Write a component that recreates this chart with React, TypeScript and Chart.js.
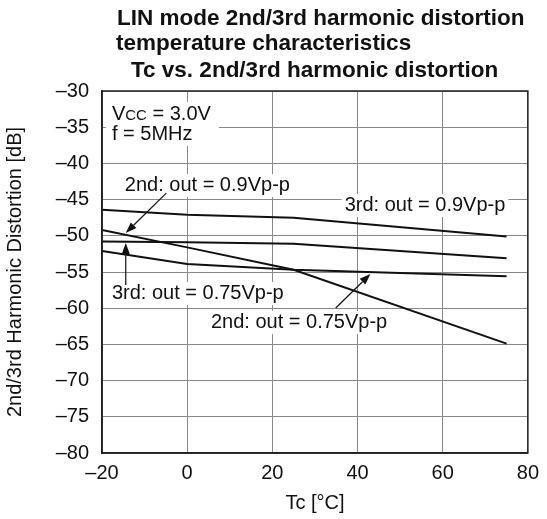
import React, { useEffect, useRef } from "react";
import { Chart, registerables } from "chart.js";

Chart.register(...registerables);

const tc = [-20, 0, 25, 75];
const third09 = [-46.4, -47.1, -47.5, -50.1];
const second09 = [-49.2, -51.6, -54.7, -64.9];
const third075 = [-50.8, -50.9, -51.1, -53.1];
const second075 = [-52.1, -53.9, -54.7, -55.6];

const xTicks = [-20, 0, 20, 40, 60, 80];
const yTicks = [-30, -35, -40, -45, -50, -55, -60, -65, -70, -75, -80];

const titleLines = [
  "LIN mode 2nd/3rd harmonic distortion",
  "temperature characteristics",
  "Tc vs. 2nd/3rd harmonic distortion",
];
const xTitle = "Tc [°C]";
const yTitle = "2nd/3rd Harmonic Distortion [dB]";

const labels = [
  { text: "2nd: out = 0.9Vp-p", x: -14.65, y: -43.81 },
  { text: "3rd: out = 0.9Vp-p", x: 36.98, y: -46.57 },
  { text: "3rd: out = 0.75Vp-p", x: -17.67, y: -58.73 },
  { text: "2nd: out = 0.75Vp-p", x: 5.58, y: -62.73 },
];
const arrows = [
  { x0: -4.9, y0: -44.1, x1: -14.42, y1: -49.61 },
  { x0: -14.42, y0: -56.8, x1: -14.42, y1: -51.0 },
  { x0: 34.88, y0: -59.97, x1: 43.02, y1: -55.28 },
];
const condition = { x: -17.67, y1: -34.0, y2: -36.77, line2: "f = 5MHz" };

const FONT = "'Liberation Sans', Arial, Helvetica, sans-serif";
const fmt = (v: number) => (v < 0 ? "\u2013" + Math.abs(v) : String(v));

export default function App() {
  const ref = useRef<HTMLCanvasElement | null>(null);
  useEffect(() => {
    if (!ref.current) return;
    const annot = {
      id: "annot",
      beforeDatasetsDraw(chart: any) {
        const ctx = chart.ctx;
        const xs = chart.scales.x;
        const ys = chart.scales.y;
        ctx.save();
        ctx.textAlign = "left";
        ctx.textBaseline = "alphabetic";
        // condition box
        const cx = xs.getPixelForValue(condition.x);
        const cy1 = ys.getPixelForValue(condition.y1);
        const cy2 = ys.getPixelForValue(condition.y2);
        ctx.font = `20px ${FONT}`;
        const wV = ctx.measureText("V").width;
        ctx.font = `15px ${FONT}`;
        const wCC = ctx.measureText("CC").width;
        ctx.font = `20px ${FONT}`;
        const wRest = ctx.measureText(" = 3.0V").width;
        const w2 = ctx.measureText(condition.line2).width;
        const wMax = Math.max(wV + wCC + wRest, w2);
        ctx.fillStyle = "#fff";
        ctx.fillRect(cx - 6, cy1 - 18, wMax + 14, cy2 - cy1 + 24);
        ctx.fillStyle = "#111";
        ctx.fillText("V", cx, cy1);
        ctx.font = `15px ${FONT}`;
        ctx.fillText("CC", cx + wV, cy1);
        ctx.font = `20px ${FONT}`;
        ctx.fillText(" = 3.0V", cx + wV + wCC, cy1);
        ctx.fillText(condition.line2, cx, cy2);
        // labels
        for (const l of labels) {
          const px = xs.getPixelForValue(l.x);
          const py = ys.getPixelForValue(l.y);
          const w = ctx.measureText(l.text).width;
          ctx.fillStyle = "#fff";
          ctx.fillRect(px - 3, py - 17, w + 6, 23);
          ctx.fillStyle = "#111";
          ctx.fillText(l.text, px, py);
        }
        // arrows
        ctx.strokeStyle = "#111";
        ctx.fillStyle = "#111";
        ctx.lineWidth = 1.2;
        for (const a of arrows) {
          const x0 = xs.getPixelForValue(a.x0);
          const y0 = ys.getPixelForValue(a.y0);
          const x1 = xs.getPixelForValue(a.x1);
          const y1 = ys.getPixelForValue(a.y1);
          const ang = Math.atan2(y1 - y0, x1 - x0);
          const hl = 11;
          const hw = 4;
          const bx = x1 - hl * Math.cos(ang);
          const by = y1 - hl * Math.sin(ang);
          ctx.beginPath();
          ctx.moveTo(x0, y0);
          ctx.lineTo(bx, by);
          ctx.stroke();
          ctx.beginPath();
          ctx.moveTo(x1, y1);
          ctx.lineTo(bx + hw * Math.sin(ang), by - hw * Math.cos(ang));
          ctx.lineTo(bx - hw * Math.sin(ang), by + hw * Math.cos(ang));
          ctx.closePath();
          ctx.fill();
        }
        ctx.restore();
      },
      afterDraw(chart: any) {
        const ctx = chart.ctx;
        const a = chart.chartArea;
        ctx.save();
        ctx.strokeStyle = "#222";
        ctx.lineWidth = 1.5;
        ctx.strokeRect(a.left, a.top, a.right - a.left, a.bottom - a.top);
        // title
        ctx.fillStyle = "#111";
        ctx.font = `bold 22.5px ${FONT}`;
        ctx.textAlign = "left";
        ctx.textBaseline = "alphabetic";
        ctx.fillText(titleLines[0], 117, 25);
        ctx.fillText(titleLines[1], 116, 50);
        ctx.fillText(titleLines[2], 131, 77);
        ctx.restore();
      },
    };

    const mk = (data: number[]) => ({
      data: tc.map((x, i) => ({ x, y: data[i] })),
      borderColor: "#111",
      borderWidth: 2,
      pointRadius: 0,
      fill: false,
      tension: 0,
    });

    const chart = new Chart(ref.current, {
      type: "line",
      data: {
        datasets: [
          { label: "3rd: out = 0.9Vp-p", ...mk(third09) },
          { label: "2nd: out = 0.9Vp-p", ...mk(second09) },
          { label: "3rd: out = 0.75Vp-p", ...mk(third075) },
          { label: "2nd: out = 0.75Vp-p", ...mk(second075) },
        ],
      },
      options: {
        animation: false,
        responsive: false,
        layout: { padding: { top: 91, right: 15, left: 0, bottom: 0 } },
        plugins: { legend: { display: false }, tooltip: { enabled: false }, title: { display: false } },
        scales: {
          x: {
            type: "linear",
            min: -20,
            max: 80,
            afterBuildTicks: (s: any) => {
              s.ticks = xTicks.map((v) => ({ value: v }));
            },
            afterFit: (s: any) => {
              s.height = 66;
            },
            ticks: {
              callback: (v: any) => fmt(Number(v)),
              font: { family: FONT, size: 20 },
              color: "#111",
              padding: 8,
              maxRotation: 0,
            },
            grid: { color: "#8a8a8a", lineWidth: 1, drawTicks: false },
            border: { color: "#222", width: 1.5 },
            title: {
              display: true,
              text: xTitle,
              font: { family: FONT, size: 20 },
              color: "#111",
              padding: { top: 0, bottom: 4 },
            },
          },
          y: {
            type: "linear",
            min: -80,
            max: -30,
            afterBuildTicks: (s: any) => {
              s.ticks = yTicks.map((v) => ({ value: v }));
            },
            afterFit: (s: any) => {
              s.width = 102;
            },
            ticks: {
              callback: (v: any) => fmt(Number(v)),
              font: { family: FONT, size: 20 },
              color: "#111",
              padding: 13,
            },
            grid: { color: "#8a8a8a", lineWidth: 1, drawTicks: false },
            border: { color: "#222", width: 1.5 },
            title: {
              display: true,
              text: yTitle,
              font: { family: FONT, size: 20 },
              color: "#111",
              padding: { top: 3, bottom: 0 },
            },
          },
        },
      },
      plugins: [annot],
    } as any);
    return () => chart.destroy();
  }, []);

  return (
    <div style={{ position: "absolute", left: 0, top: 0, width: 547, height: 519, background: "#fff" }}>
      <canvas ref={ref} width={547} height={519} style={{ width: 547, height: 519, display: "block" }} />
    </div>
  );
}
